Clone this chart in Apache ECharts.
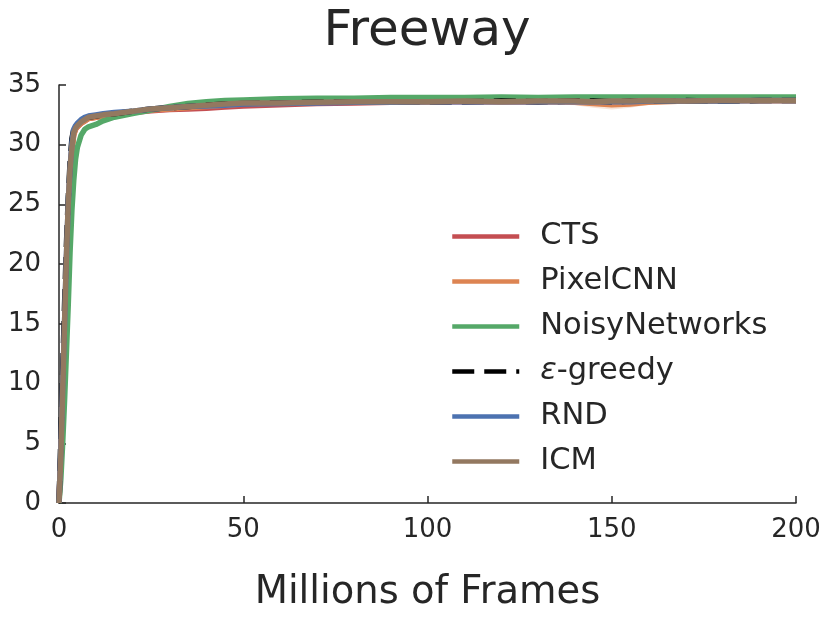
<!DOCTYPE html>
<html><head><meta charset="utf-8">
<script src="https://cdn.jsdelivr.net/npm/echarts@6/dist/echarts.min.js"></script>
<style>html,body{margin:0;padding:0;background:#fff}#c{width:830px;height:620px}</style>
</head><body><div id="c"></div>
<script>
const frames = [0,0.5,1,1.5,2,2.5,3,3.5,4,4.5,5,6,7,8,10,12,15,20,25,30,35,40,45,50,60,70,80,90,100,110,120,130,140,145,150,155,160,170,180,190,200];
const cts = [0,4,9.5,14.5,20,24.5,27.5,29.6,30.9,31.3,31.5,31.8,32.0,32.2,32.3,32.4,32.5,32.7,32.85,32.95,33.0,33.05,33.15,33.25,33.35,33.45,33.5,33.55,33.6,33.6,33.6,33.6,33.65,33.6,33.6,33.6,33.65,33.65,33.7,33.7,33.7];
const pixelcnn = [0,4,9,14,19.5,24,27.5,29.5,30.8,31.3,31.5,31.8,32.0,32.2,32.3,32.4,32.5,32.7,32.9,33.0,33.1,33.2,33.3,33.4,33.5,33.55,33.6,33.6,33.6,33.65,33.6,33.6,33.55,33.45,33.35,33.4,33.55,33.65,33.7,33.7,33.7];
const pixelcnnLow = [0,3,8,13,18.5,23,26.5,28.8,30.3,30.9,31.2,31.5,31.8,32.0,32.1,32.2,32.3,32.5,32.7,32.8,32.9,33.0,33.1,33.2,33.3,33.4,33.45,33.45,33.45,33.5,33.45,33.45,33.3,33.1,32.95,33.1,33.35,33.5,33.55,33.55,33.55];
const pixelcnnHigh = [0,5,10,15,20.5,25,28.5,30.2,31.3,31.7,31.8,32.1,32.2,32.4,32.5,32.6,32.7,32.9,33.1,33.2,33.3,33.4,33.5,33.6,33.7,33.7,33.75,33.75,33.75,33.8,33.75,33.75,33.75,33.7,33.65,33.65,33.75,33.8,33.85,33.85,33.85];
const noisy = [0,2,5,8.5,12.5,16.5,21,24.5,27,28.8,29.8,30.8,31.3,31.5,31.7,32.0,32.3,32.6,32.9,33.2,33.45,33.6,33.7,33.75,33.85,33.9,33.9,33.95,33.95,33.95,34.0,33.95,34.0,34.0,34.0,34.0,34.0,34.0,34.0,34.0,34.0];
const egreedy = [0,5.5,11,16.5,21.5,25.5,28.5,30.5,31.3,31.6,31.8,32.0,32.2,32.3,32.4,32.5,32.6,32.8,33.0,33.1,33.2,33.3,33.4,33.45,33.5,33.55,33.6,33.6,33.6,33.6,33.65,33.6,33.65,33.65,33.6,33.65,33.65,33.7,33.65,33.7,33.7];
const rnd = [0,4.5,10,15,20.5,25,28,30.2,31.3,31.6,31.8,32.1,32.3,32.4,32.5,32.6,32.7,32.8,33.0,33.1,33.2,33.25,33.3,33.4,33.45,33.5,33.55,33.55,33.6,33.6,33.6,33.6,33.6,33.6,33.6,33.6,33.65,33.65,33.65,33.7,33.7];
const icm = [0,4,9.5,15,20.5,25,28,29.8,31,31.4,31.6,31.9,32.1,32.3,32.4,32.5,32.6,32.8,33.0,33.1,33.2,33.3,33.4,33.5,33.5,33.55,33.6,33.6,33.6,33.65,33.6,33.65,33.65,33.6,33.65,33.65,33.7,33.65,33.7,33.7,33.7];
const yTicks = [0,5,10,15,20,25,30,35];
const xTicks = [0,50,100,150,200];

const pair = arr => frames.map((f,i)=>[f,arr[i]]);
const txt = '#262626';
const font = 'DejaVu Sans';
function line(name, arr, color, extra) {
  return Object.assign({
    name, type:'line', data: pair(arr), showSymbol:false, symbol:'none',
    lineStyle:{color, width:5.5}, itemStyle:{color}, z:3, animation:false
  }, extra||{});
}
const bandData = frames.map((f,i)=>[f, pixelcnnLow[i], pixelcnnHigh[i]]);
const chart = echarts.init(document.getElementById('c'), null, {renderer:'canvas'});
chart.setOption({
  animation:false,
  backgroundColor:'#fff',
  title:{text:'Freeway', left:422, textAlign:'center', top:2,
    textStyle:{fontFamily:font, fontSize:50, fontWeight:'normal', color:txt}},
  grid:{left:59, right:34, top:85, bottom:117},
  xAxis:{type:'value', min:0, max:200, interval:50,
    name:'Millions of Frames', nameLocation:'middle', nameGap:70,
    nameTextStyle:{fontFamily:font, fontSize:38.5, color:txt},
    axisLine:{lineStyle:{color:txt, width:1.5}},
    axisTick:{inside:true, length:7, lineStyle:{color:txt, width:1.5}},
    axisLabel:{fontFamily:font, fontSize:26, color:txt, margin:14},
    splitLine:{show:false}},
  yAxis:{type:'value', min:0, max:35, interval:5,
    axisLine:{show:true, lineStyle:{color:txt, width:1.5}},
    axisTick:{show:true, inside:true, length:7, lineStyle:{color:txt, width:1.5}},
    axisLabel:{fontFamily:font, fontSize:26, color:txt, margin:18},
    splitLine:{show:false}},
  legend:{orient:'vertical', left:450, top:221, padding:0, itemWidth:67, itemHeight:14, itemGap:14,
    data:['CTS','PixelCNN','NoisyNetworks','ε-greedy','RND','ICM'],
    textStyle:{fontFamily:font, fontSize:30.5, color:txt, lineHeight:30, padding:[0,0,0,16],
      rich:{i:{fontFamily:font, fontSize:30.5, fontStyle:'italic', color:txt}}},
    formatter: n => n==='ε-greedy' ? '{i|ε}-greedy' : n,
    itemStyle:{opacity:0, borderWidth:0},
    lineStyle:{width:4.5}},
  series:[
    line('CTS', cts, '#c44e52'),
    {name:'pixelcnn_band', type:'custom', data:bandData, z:2, silent:true,
      encode:{x:0, y:[1,2]},
      renderItem:(params, api) => {
        if (params.dataIndex !== 0) return null;
        const up = bandData.map(d => api.coord([d[0], d[2]]));
        const lo = bandData.map(d => api.coord([d[0], d[1]])).reverse();
        return {type:'polygon', shape:{points: up.concat(lo)},
          style:{fill:'rgba(221,132,82,0.22)', stroke:null}};
      }},
    line('PixelCNN', pixelcnn, '#dd8452'),
    line('NoisyNetworks', noisy, '#55a868'),
    line('ε-greedy', egreedy, '#000000', {lineStyle:{color:'#000', width:5.5, type:[22,10]}}),
    line('RND', rnd, '#4c72b0'),
    line('ICM', icm, '#937860')
  ]
});
</script></body></html>
